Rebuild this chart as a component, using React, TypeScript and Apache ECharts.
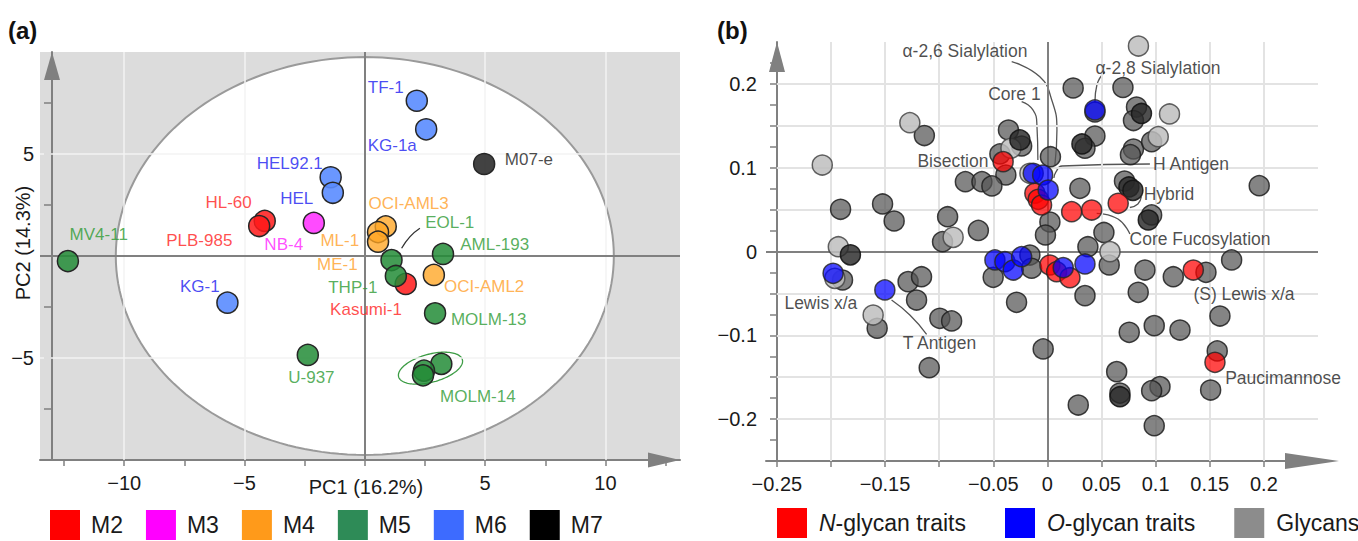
import React, { useEffect, useRef } from "react";
import * as echarts from "echarts";

const FONT = '"Liberation Sans", Arial, Helvetica, sans-serif';

// ---------------- Panel (a): PCA scores of AML cell lines ----------------
const subtypes = ["M2", "M3", "M4", "M5", "M6", "M7"];
const cellLines = ["HL-60", "PLB-985", "Kasumi-1", "NB-4", "OCI-AML3", "ML-1", "ME-1", "OCI-AML2", "MV4-11", "EOL-1", "AML-193", "THP-1", "MOLM-13", "U-937", "MOLM-14", "MOLM-14", "MOLM-14", "TF-1", "KG-1a", "HEL92.1", "HEL", "KG-1", "M07-e"];
const cellSubtype = ["M2", "M2", "M2", "M3", "M4", "M4", "M4", "M4", "M5", "M5", "M5", "M5", "M5", "M5", "M5", "M5", "M5", "M6", "M6", "M6", "M6", "M6", "M7"];
const pc1Scores = [-4.16, -4.39, 1.70, -2.12, 0.87, 0.55, 0.55, 2.87, -12.34, 1.11, 3.25, 1.29, 2.92, -2.37, 3.18, 2.46, 2.42, 2.16, 2.55, -1.42, -1.33, -5.71, 4.96];
const pc2Scores = [1.72, 1.47, -1.37, 1.62, 1.45, 1.17, 0.70, -0.93, -0.25, -0.20, 0.10, -0.98, -2.81, -4.85, -5.29, -5.62, -5.85, 7.61, 6.21, 3.86, 3.10, -2.29, 4.51];

// label anchors (PC units)
const labelNames = ["HL-60", "PLB-985", "Kasumi-1", "NB-4", "OCI-AML3", "ML-1", "ME-1", "OCI-AML2", "MV4-11", "EOL-1", "AML-193", "THP-1", "MOLM-13", "U-937", "MOLM-14", "TF-1", "KG-1a", "HEL92.1", "HEL", "KG-1", "M07-e"];
const labelSubtype = ["M2", "M2", "M2", "M3", "M4", "M4", "M4", "M4", "M5", "M5", "M5", "M5", "M5", "M5", "M5", "M6", "M6", "M6", "M6", "M6", "M7"];
const labelPc1 = [-5.66, -6.88, 0.05, -3.37, 1.82, -1.04, -1.14, 4.96, -11.06, 3.53, 5.40, -0.50, 5.15, -2.22, 4.70, 0.87, 1.14, -3.12, -2.83, -6.86, 6.82];
const labelPc2 = [2.61, 0.78, -2.61, 0.54, 2.55, 0.78, -0.44, -1.50, 1.03, 1.63, 0.54, -1.53, -3.10, -5.95, -6.90, 8.24, 5.44, 4.54, 2.83, -1.50, 4.71];
const eolLeader = [[2.29, 1.36], [1.88, 0.95], [1.53, 0.38]];

const t2Center = [0, 0];
const t2Radii = [10.35, 9.75];
const molm14Center = [2.73, -5.5];

const aTicksX = [-12.5, -10, -7.5, -5, -2.5, 0, 2.5, 5, 7.5, 10, 12.5];
const aLabelsX = [-10, -5, 5, 10];
const aTicksY = [-7.5, -5, -2.5, 0, 2.5, 5, 7.5];
const aLabelsY = [-5, 5];
const aGridX = [-10, -5, 5, 10];
const aGridY = [-5, 5];

// ---------------- Panel (b): loadings ----------------
const nGlycanTraits = [
  [-0.0409, 0.1072], [-0.0116, 0.0695], [-0.0085, 0.0623], [-0.0054, 0.0555], [0.0224, 0.0475], [0.0409, 0.0495],
  [0.0654, 0.0575], [0.0023, -0.0161], [0.0085, -0.0241], [0.0208, -0.0313], [0.1348, -0.0221], [0.1548, -0.1322],
];
const oGlycanTraits = [
  [0.0439, 0.1689], [-0.0131, 0.0933], [-0.0044, 0.0913], [0.0007, 0.0734], [-0.0485, -0.0101], [-0.0393, -0.0122],
  [-0.0316, -0.0221], [-0.0238, -0.0062], [0.0146, -0.0193], [0.0347, -0.0149], [-0.198, -0.026], [-0.1502, -0.0459],
];
const glycans = [
  [-0.1137, 0.1384], [-0.1911, 0.0504], [-0.1523, 0.0567], [-0.1416, 0.0364], [-0.0922, 0.0415], [-0.0969, 0.0117],
  [0.0238, 0.1951], [0.0698, 0.1957], [0.0439, 0.1665], [-0.036, 0.145], [-0.0238, 0.1259], [0.0439, 0.1378],
  [0.0347, 0.1232], [0.0028, 0.1131], [-0.0439, 0.1164], [-0.0384, 0.0913], [-0.0758, 0.0833], [-0.0605, 0.0833],
  [-0.0513, 0.0782], [0.03, 0.0754], [0.0712, 0.0841], [0.0023, 0.0352], [-0.0018, 0.0197], [-0.0638, 0.0251],
  [0.0374, 0.0057], [0.0522, 0.0227], [0.0823, 0.1724], [0.0795, 0.1563], [0.0795, 0.1223], [0.0767, 0.1155],
  [0.0963, 0.131], [0.1957, 0.0785], [0.0963, 0.0436], [-0.1893, -0.034], [-0.1287, -0.036], [-0.1163, -0.0301],
  [-0.1209, -0.0579], [-0.1573, -0.0916], [-0.0994, -0.0797], [-0.0885, -0.0829], [-0.1092, -0.1387], [-0.0501, -0.0308],
  [-0.0162, -0.0042], [-0.0146, -0.02], [-0.0285, -0.0606], [-0.0039, -0.1163], [0.0571, -0.0161], [0.0347, -0.0527],
  [0.0756, -0.0964], [0.064, -0.1434], [0.067, -0.1689], [0.0285, -0.1832], [0.0901, -0.0221], [0.1163, -0.0301],
  [0.1465, -0.0248], [0.1702, -0.0101], [0.0839, -0.0487], [0.1594, -0.077], [0.0987, -0.0885], [0.1225, -0.0937],
  [0.1569, -0.1187], [0.104, -0.1613], [0.0963, -0.1661], [0.1508, -0.1653], [0.0987, -0.2079],
];
const glycansLight = [
  [0.0841, 0.2452], [-0.208, 0.1032], [-0.1271, 0.1537], [-0.1932, 0.0057], [-0.0871, 0.0169], [0.0578, -0.0002],
  [0.1128, 0.1641], [0.1024, 0.137], [-0.0337, 0.1232], [-0.0162, 0.0933], [-0.1964, -0.032], [-0.161, -0.0758],
];
const glycansDark = [
  [-0.0254, 0.1331], [0.0319, 0.1283], [0.0753, 0.077], [0.079, 0.073], [0.0869, 0.1647], [0.0932, 0.0376],
  [-0.182, -0.004], [0.067, -0.1733],
];

const traitLabels = ["α-2,6 Sialylation", "α-2,8 Sialylation", "Core 1", "Bisection", "H Antigen", "Hybrid", "Core Fucosylation", "Lewis x/a", "T Antigen", "(S) Lewis x/a", "Paucimannose"];
const traitLabelX = [-0.0762, 0.1021, -0.0305, -0.0873, 0.1326, 0.1123, 0.141, -0.2093, -0.0997, 0.1816, 0.2177];
const traitLabelY = [0.2396, 0.2186, 0.188, 0.1084, 0.1044, 0.0686, 0.0149, -0.0615, -0.1095, -0.0511, -0.1513];

const traitLeaders = [
  [[-0.033, 0.2265], [-0.007, 0.2085], [0.004, 0.1808], [0.0088, 0.145], [0.0069, 0.1032]],
  [[-0.0238, 0.1788], [-0.0134, 0.1689], [-0.0097, 0.151], [-0.0088, 0.1092]],
  [[0.0531, 0.2146], [0.0457, 0.1987], [0.0439, 0.1784]],
  [[0.0947, 0.1044], [0.0134, 0.102], [0.0079, 0.0949], [0.006, 0.0877]],
  [[0.0868, 0.0654], [0.0836, 0.0567], [0.0762, 0.0525]],
  [[0.0455, 0.0456], [0.0652, 0.0388], [0.0762, 0.0209]],
  [[-0.144, -0.0579], [-0.1271, -0.0758], [-0.1116, -0.0988]],
];

const bTicksX = [-0.25, -0.2, -0.15, -0.1, -0.05, 0, 0.05, 0.1, 0.15, 0.2];
const bLabelsX = [-0.25, -0.15, -0.05, 0, 0.05, 0.1, 0.15, 0.2];
const bTicksY = [-0.25, -0.225, -0.2, -0.175, -0.15, -0.125, -0.1, -0.075, -0.05, -0.025, 0, 0.025, 0.05, 0.075, 0.1, 0.125, 0.15, 0.175, 0.2, 0.225];
const bLabelsY = [-0.2, -0.1, 0, 0.1, 0.2];
const bGrid = [-0.2, -0.15, -0.1, -0.05, 0.05, 0.1, 0.15, 0.2];

// ---------------- styles ----------------
const pointFill: Record<string, string> = {
  M2: "rgba(255,25,25,0.85)",
  M3: "rgba(255,60,255,0.92)",
  M4: "rgba(255,165,35,0.78)",
  M5: "rgba(35,140,55,0.85)",
  M6: "rgba(90,140,255,0.9)",
  M7: "rgba(40,40,40,0.88)",
};
const legendFill: Record<string, string> = {
  M2: "#ff0000", M3: "#ff00ff", M4: "#ff9a1a", M5: "#2e8b57", M6: "#3d6bff", M7: "#000000",
};
const labelColor: Record<string, string> = {
  M2: "#ff1e1e", M3: "#ff22ff", M4: "#ffa02a", M5: "#2d9a33", M6: "#1c1cf0", M7: "#1a1a1a",
};

const fmt = (v: number) => (v < 0 ? "\u2212" + String(-v) : String(v));

const axisGray = "#808080";

function makeAxisLine(size: number[], offset: number) {
  return {
    show: true,
    onZero: false,
    lineStyle: { color: axisGray, width: 2 },
    symbol: ["none", "triangle"],
    symbolSize: size,
    symbolOffset: [0, offset],
  };
}

function ellipsePoints(api: any, c: number[], r: number[]) {
  const pts: number[][] = [];
  for (let i = 0; i < 180; i++) {
    const t = (i / 180) * Math.PI * 2;
    pts.push(api.coord([c[0] + r[0] * Math.cos(t), c[1] + r[1] * Math.sin(t)]));
  }
  return pts;
}

export default function App() {
  const ref = useRef<HTMLDivElement>(null);

  useEffect(() => {
    if (!ref.current) return;
    const chart = echarts.init(ref.current, undefined, { renderer: "svg" });

    const series: any[] = [];

    // ---- panel a ----
    series.push({
      type: "custom",
      xAxisIndex: 0,
      yAxisIndex: 0,
      z: 1,
      silent: true,
      data: [t2Center],
      renderItem: (_p: any, api: any) => ({
        type: "polygon",
        shape: { points: ellipsePoints(api, t2Center, t2Radii) },
        style: { fill: "#ffffff", stroke: "#9a9a9a", lineWidth: 2 },
      }),
    });
    series.push({
      type: "line",
      xAxisIndex: 0,
      yAxisIndex: 0,
      z: 2,
      silent: true,
      data: [],
      markLine: {
        silent: true,
        symbol: ["none", "none"],
        label: { show: false },
        emphasis: { disabled: true },
        lineStyle: { color: "#f3f3f3", width: 1.5, type: "solid" },
        data: [...aGridX.map((v) => ({ xAxis: v })), ...aGridY.map((v) => ({ yAxis: v }))],
      },
    });
    series.push({
      type: "line",
      xAxisIndex: 0,
      yAxisIndex: 0,
      z: 3,
      silent: true,
      data: [],
      markLine: {
        silent: true,
        symbol: ["none", "none"],
        label: { show: false },
        emphasis: { disabled: true },
        lineStyle: { color: axisGray, width: 2, type: "solid" },
        data: [{ xAxis: 0 }, { yAxis: 0 }],
      },
    });
    series.push({
      type: "custom",
      xAxisIndex: 0,
      yAxisIndex: 0,
      z: 4,
      silent: true,
      data: [molm14Center],
      renderItem: (_p: any, api: any) => {
        const c = api.coord(molm14Center);
        const rx = 33, ry = 14, a = (15 * Math.PI) / 180;
        const pts: number[][] = [];
        for (let i = 0; i < 120; i++) {
          const t = (i / 120) * Math.PI * 2;
          const ex = rx * Math.cos(t), ey = ry * Math.sin(t);
          pts.push([c[0] + ex * Math.cos(a) - ey * Math.sin(a), c[1] - (ex * Math.sin(a) + ey * Math.cos(a))]);
        }
        return { type: "polygon", shape: { points: pts }, style: { fill: "none", stroke: "#3c9c44", lineWidth: 1.3 } };
      },
    });
    series.push({
      type: "line",
      xAxisIndex: 0,
      yAxisIndex: 0,
      z: 4,
      silent: true,
      smooth: true,
      showSymbol: false,
      symbol: "none",
      data: eolLeader,
      lineStyle: { color: "#333", width: 1.3 },
    });
    subtypes.forEach((s) => {
      const data: any[] = [];
      cellLines.forEach((n, i) => {
        if (cellSubtype[i] === s) data.push({ name: n, value: [pc1Scores[i], pc2Scores[i]] });
      });
      series.push({
        type: "scatter",
        name: s,
        xAxisIndex: 0,
        yAxisIndex: 0,
        z: 5,
        symbolSize: 21,
        data,
        itemStyle: { color: pointFill[s], borderColor: "#262626", borderWidth: 1.5, opacity: 1 },
        emphasis: { disabled: true },
      });
    });
    series.push({
      type: "scatter",
      xAxisIndex: 0,
      yAxisIndex: 0,
      z: 6,
      silent: true,
      symbolSize: 1,
      itemStyle: { color: "rgba(0,0,0,0)" },
      data: labelNames.map((n, i) => ({
        name: n,
        value: [labelPc1[i], labelPc2[i]],
        label: { color: labelColor[labelSubtype[i]] },
      })),
      label: {
        show: true,
        position: "inside",
        formatter: "{b}",
        fontSize: 17,
        fontFamily: FONT,
        align: "center",
        verticalAlign: "middle",
      },
    });

    // ---- panel b ----
    const seg = (a: number[], b: number[]) => [{ coord: a }, { coord: b }];
    series.push({
      type: "line",
      xAxisIndex: 1,
      yAxisIndex: 1,
      z: 2,
      silent: true,
      data: [],
      markLine: {
        silent: true,
        symbol: ["none", "none"],
        label: { show: false },
        emphasis: { disabled: true },
        lineStyle: { color: "#e3e3e3", width: 2, type: "solid" },
        data: [
          ...bGrid.map((v) => seg([-0.25, v], [0.25, v])),
          ...bGrid.map((v) => seg([v, -0.25], [v, 0.25])),
        ],
      },
    });
    series.push({
      type: "line",
      xAxisIndex: 1,
      yAxisIndex: 1,
      z: 3,
      silent: true,
      data: [],
      markLine: {
        silent: true,
        symbol: ["none", "none"],
        label: { show: false },
        emphasis: { disabled: true },
        lineStyle: { color: axisGray, width: 2, type: "solid" },
        data: [{ xAxis: 0 }, { yAxis: 0 }],
      },
    });
    traitLeaders.forEach((l) => {
      series.push({
        type: "line",
        xAxisIndex: 1,
        yAxisIndex: 1,
        z: 4,
        silent: true,
        smooth: true,
        showSymbol: false,
        symbol: "none",
        data: l,
        lineStyle: { color: "#555", width: 1.3 },
      });
    });
    const bScatter = (name: string, data: number[][], color: string, border: string, z: number) => ({
      type: "scatter",
      name,
      xAxisIndex: 1,
      yAxisIndex: 1,
      z,
      symbolSize: 20,
      data,
      itemStyle: { color, borderColor: border, borderWidth: 1.5, opacity: 1 },
      emphasis: { disabled: true },
    });
    series.push(bScatter("Glycans", glycans, "rgba(85,85,85,0.72)", "rgba(30,30,30,0.85)", 5));
    series.push(bScatter("Glycans", glycansLight, "rgba(190,190,190,0.85)", "rgba(70,70,70,0.85)", 5));
    series.push(bScatter("Glycans", glycansDark, "rgba(40,40,40,0.82)", "rgba(20,20,20,0.9)", 5));
    series.push(bScatter("N-glycan traits", nGlycanTraits, "rgba(255,0,0,0.72)", "rgba(40,40,40,0.85)", 6));
    series.push(bScatter("O-glycan traits", oGlycanTraits, "rgba(0,0,255,0.72)", "rgba(40,40,40,0.85)", 6));
    series.push({
      type: "scatter",
      xAxisIndex: 1,
      yAxisIndex: 1,
      z: 7,
      silent: true,
      symbolSize: 1,
      itemStyle: { color: "rgba(0,0,0,0)" },
      data: traitLabels.map((n, i) => ({ name: n, value: [traitLabelX[i], traitLabelY[i]] })),
      label: {
        show: true,
        position: "inside",
        formatter: "{b}",
        fontSize: 17.5,
        fontFamily: FONT,
        color: "#1e1e1e",
        align: "center",
        verticalAlign: "middle",
      },
    });

    const labelStyle = { fontSize: 20, fontFamily: FONT, color: "#1a1a1a" };
    const tickStyle = { color: axisGray, width: 1.5 };
    const legendText = { fontSize: 23, fontFamily: FONT, color: "#1a1a1a", lineHeight: 24 };

    chart.setOption({
      animation: false,
      backgroundColor: "#ffffff",
      textStyle: { fontFamily: FONT },
      grid: [
        { left: 40, top: 52, width: 640, height: 408, show: true, backgroundColor: "#dcdcdc", borderWidth: 0, outerBoundsMode: "none", containLabel: false },
        { left: 766, top: 42, width: 552, height: 419, show: false, outerBoundsMode: "none", containLabel: false },
      ],
      xAxis: [
        {
          gridIndex: 0, type: "value", min: -13.5, max: 13.1,
          axisLine: makeAxisLine([15, 32], -16),
          axisTick: { show: true, customValues: aTicksX, length: 6, lineStyle: tickStyle },
          axisLabel: { show: true, customValues: aLabelsX, formatter: fmt, margin: 13, ...labelStyle },
          splitLine: { show: false },
        },
        {
          gridIndex: 1, type: "value", min: -0.26, max: 0.25,
          axisLine: makeAxisLine([16, 54], -6),
          axisTick: { show: true, customValues: bTicksX, length: 6, lineStyle: tickStyle },
          axisLabel: { show: true, customValues: bLabelsX, formatter: fmt, margin: 13, ...labelStyle },
          splitLine: { show: false },
        },
      ],
      yAxis: [
        {
          gridIndex: 0, type: "value", min: -10, max: 10, offset: -12,
          axisLine: makeAxisLine([16, 28], -14),
          axisTick: { show: true, customValues: aTicksY, length: 8, lineStyle: tickStyle },
          axisLabel: { show: true, customValues: aLabelsY, formatter: fmt, margin: 18, ...labelStyle },
          splitLine: { show: false },
        },
        {
          gridIndex: 1, type: "value", min: -0.25, max: 0.25, offset: -11,
          axisLine: makeAxisLine([16, 30], -15),
          axisTick: { show: true, customValues: bTicksY, length: 7, lineStyle: tickStyle },
          axisLabel: { show: true, customValues: bLabelsY, formatter: fmt, margin: 20, ...labelStyle },
          splitLine: { show: false },
        },
      ],
      legend: [
        {
          left: 50, top: 510, width: 620, padding: 0, orient: "horizontal", selectedMode: false,
          itemWidth: 30, itemHeight: 30, itemGap: 23, icon: "rect",
          itemStyle: { borderWidth: 0, opacity: 1 },
          textStyle: { ...legendText, padding: [0, 0, 0, 6] },
          data: subtypes.map((s) => ({ name: s, itemStyle: { color: legendFill[s], borderWidth: 0 } })),
        },
        {
          left: 777, top: 508, width: 620, padding: 0, orient: "horizontal", selectedMode: false,
          itemWidth: 30, itemHeight: 30, itemGap: 39, icon: "rect",
          itemStyle: { borderWidth: 0, opacity: 1 },
          formatter: (n: string) => (n === "N-glycan traits" ? "{i|N}-glycan traits" : n === "O-glycan traits" ? "{i|O}-glycan traits" : n),
          textStyle: {
            ...legendText, padding: [0, 0, 0, 7],
            rich: { i: { fontStyle: "italic", fontSize: 23, fontFamily: FONT, color: "#1a1a1a", lineHeight: 24 } },
          },
          data: [
            { name: "N-glycan traits", itemStyle: { color: "#ff0000", borderWidth: 0 } },
            { name: "O-glycan traits", itemStyle: { color: "#0000ff", borderWidth: 0 } },
            { name: "Glycans", itemStyle: { color: "#8c8c8c", borderWidth: 0 } },
          ],
        },
      ],
      graphic: [
        { type: "text", x: 8, y: 30, style: { text: "(a)", fontSize: 24, fontWeight: "bold", fontFamily: FONT, fill: "#111", verticalAlign: "middle" } },
        { type: "text", x: 717, y: 30, style: { text: "(b)", fontSize: 24, fontWeight: "bold", fontFamily: FONT, fill: "#111", verticalAlign: "middle" } },
        { type: "text", x: 366, y: 487, style: { text: "PC1 (16.2%)", fontSize: 20, fontFamily: FONT, fill: "#1a1a1a", align: "center", verticalAlign: "middle" } },
        { type: "text", x: 23, y: 243, rotation: Math.PI / 2, style: { text: "PC2 (14.3%)", fontSize: 20, fontFamily: FONT, fill: "#1a1a1a", align: "center", verticalAlign: "middle" } },
      ],
      tooltip: { show: false },
      series,
    });

    return () => chart.dispose();
  }, []);

  return <div ref={ref} style={{ position: "absolute", left: 0, top: 0, width: 1358, height: 541 }} />;
}
